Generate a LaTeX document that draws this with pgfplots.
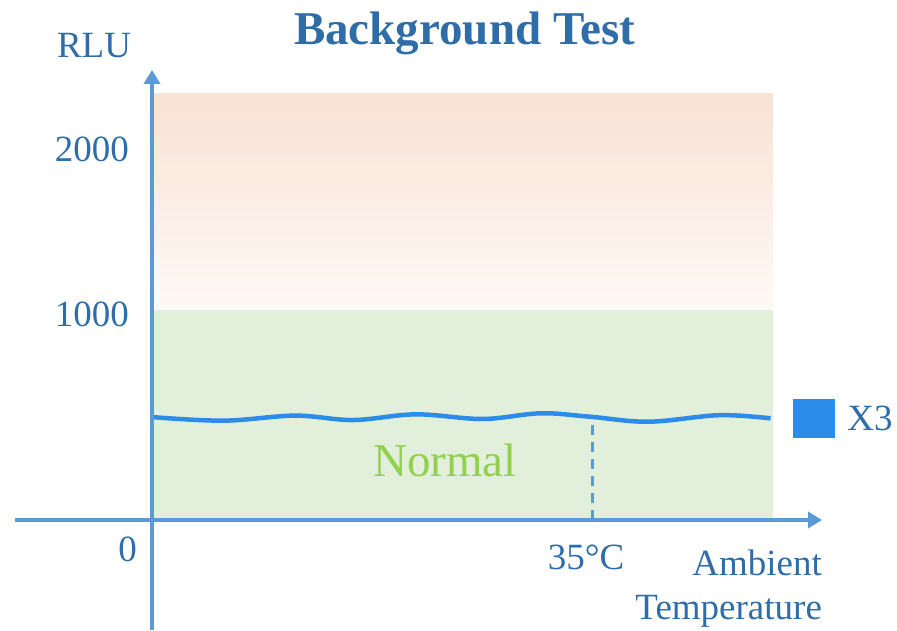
\documentclass[border=0pt]{standalone}
\usepackage{pgfplots}
\pgfplotsset{compat=1.18}
\usepackage{fontspec}
\setmainfont{Liberation Serif}
\usetikzlibrary{arrows.meta}
\definecolor{txtblue}{HTML}{2F6DA8}
\definecolor{axblue}{HTML}{5B9BD5}
\definecolor{linblue}{HTML}{2B8CE9}
\definecolor{greenbg}{HTML}{E2EFDA}
\definecolor{peachtop}{HTML}{F8E2D4}
\definecolor{peachbot}{HTML}{FEF9F6}
\definecolor{normgreen}{HTML}{92D050}
\newcommand\fsA{\fontsize{37pt}{44pt}\selectfont}
\newcommand\fsB{\fontsize{47pt}{56pt}\selectfont}
\begin{document}
\begin{tikzpicture}
\begin{axis}[
  x=12.571pt, y=0.21pt,
  xmin=-10.9, xmax=53.3, ymin=-524, ymax=2143,
  axis lines=middle, axis on top, clip=false,
  axis line style={draw=axblue, line width=3.5pt, -{Triangle[length=14pt,width=16pt]}},
  every inner x axis line/.append style={-{Triangle[length=14pt,width=16pt]}},
  every inner y axis line/.append style={-{Triangle[length=14pt,width=16pt]}},
  major tick length=0pt,
  xtick={35}, xticklabels={35°C},
  ytick={1000,1786}, yticklabels={1000,2000},
  extra y ticks={0}, extra y tick labels={0},
  extra y tick style={yticklabel style={xshift=8pt, yshift=-25pt}},
  hide obscured x ticks=false, hide obscured y ticks=false,
  /pgf/number format/assume math mode=true,
  ticklabel style={font=\fsA, text=txtblue, inner sep=0pt, outer sep=0pt},
  yticklabel style={anchor=base east, xshift=-23pt, yshift=-17pt},
  xticklabel style={anchor=base, yshift=-50pt, xshift=-6pt},
  legend style={draw=none, fill=none, at={(axis description cs:0.964,0.3769)}, anchor=west,
    inner sep=0pt, font=\fsA, text=txtblue},
  legend image code/.code={\fill[#1,draw=none] (0pt,-19pt) rectangle (42pt,20pt); \path (50pt,0pt);},
]
% background bands
\addplot[draw=none, top color=peachtop, bottom color=peachbot, forget plot]
  coordinates {(0,1000) (0,2033) (49.4,2033) (49.4,1000)} -- cycle;
\addplot[draw=none, fill=greenbg, forget plot]
  coordinates {(0,0) (0,1000) (49.4,1000) (49.4,0)} -- cycle;
% dashed drop line at 35 C
\addplot[axblue, line width=3pt, dash pattern=on 10pt off 7pt, forget plot]
  coordinates {(35,0) (35,490)};
% X3 curve
\addplot[linblue, line width=4.5pt, smooth, tension=0.6]
  coordinates {(0,490) (5.73,473) (11.38,497) (16.0,476) (21.0,503) (26.3,481)
               (30.9,508) (34.8,492) (39.5,468) (45.1,499) (49.2,484)};
\addlegendentry{X3}
% texts
\node[anchor=base, inner sep=0pt, font=\fsB\bfseries, text=txtblue] at (axis cs:24.86,2262) {Background Test};
\node[anchor=base, inner sep=0pt, font=\fsA, text=txtblue] at (axis cs:-4.61,2200) {RLU};
\node[anchor=base, inner sep=0pt, font=\fsB, text=normgreen] at (axis cs:23.3,206) {Normal};
\node[anchor=base east, inner sep=0pt, font=\fsA, text=txtblue] at (axis cs:53.3,-262) {Ambient};
\node[anchor=base east, inner sep=0pt, font=\fsA, text=txtblue] at (axis cs:53.3,-476) {Temperature};
\coordinate (BL) at (axis cs:-12.09,-524);
\coordinate (TR) at (axis cs:59.26,2476);
\end{axis}
\pgfresetboundingbox
\useasboundingbox (BL) rectangle (TR);
\end{tikzpicture}
\end{document}
